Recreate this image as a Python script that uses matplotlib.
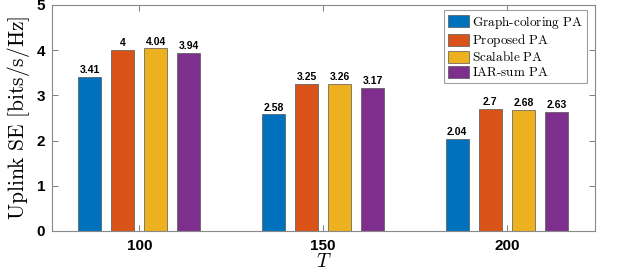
import numpy as np
from matplotlib import pyplot as plt

plt.rcParams['mathtext.fontset'] = 'cm'

t_values = ['100', '150', '200']
series = ['Graph-coloring PA', 'Proposed PA', 'Scalable PA', 'IAR-sum PA']
se_graph = [3.41, 2.58, 2.04]
se_proposed = [4.00, 3.25, 2.70]
se_scalable = [4.04, 3.26, 2.68]
se_iar = [3.94, 3.17, 2.63]
labels_graph = ['3.41', '2.58', '2.04']
labels_proposed = ['4', '3.25', '2.7']
labels_scalable = ['4.04', '3.26', '2.68']
labels_iar = ['3.94', '3.17', '2.63']

colors = ['#0072BD', '#D95319', '#EDB120', '#7E2F8E']
data = [se_graph, se_proposed, se_scalable, se_iar]
texts = [labels_graph, labels_proposed, labels_scalable, labels_iar]

fig = plt.figure(figsize=(6.23, 2.72), dpi=100)
ax = fig.add_axes([52/623, 1-231/272, 543/623, 226/272])

x = np.arange(len(t_values))
width = 0.125
step = 0.18
for i, (vals, lab) in enumerate(zip(data, texts)):
    off = (i - 1.5) * step
    bars = ax.bar(x + off, vals, width, color=colors[i], edgecolor='#555555',
                  linewidth=0.5, label=series[i])
    for b, s in zip(bars, lab):
        ax.text(b.get_x() + b.get_width()/2, b.get_height() + 0.04, s,
                ha='center', va='bottom', fontsize=7.5, fontweight='bold',
                family='Liberation Sans')

ax.set_xlim(-0.475, 2.48)
ax.set_ylim(0, 5)
ax.set_xticks(x)
ax.set_xticklabels(t_values)
ax.set_yticks([0, 1, 2, 3, 4, 5])
for lbl in ax.get_xticklabels() + ax.get_yticklabels():
    lbl.set_fontweight('bold')
    lbl.set_family('Liberation Sans')
    lbl.set_fontsize(11)
ax.tick_params(direction='in', top=True, right=True, length=4, width=0.6,
               color='#666666')
ax.tick_params(axis='x', pad=6)
ax.tick_params(axis='y', pad=5)
for sp in ax.spines.values():
    sp.set_color('#888888')
    sp.set_linewidth(0.8)

ax.set_ylabel(r'$\mathrm{Uplink\ SE\ [bits/s/Hz]}$', fontsize=15.5, labelpad=3)
ax.set_xlabel(r'$T$', fontsize=14, labelpad=-1)

leg = ax.legend(loc='upper right', bbox_to_anchor=(0.99, 0.99),
                prop={'family': 'DejaVu Serif', 'size': 9.5}, fancybox=False,
                handlelength=1.6, handleheight=1.0, handletextpad=0.2,
                labelspacing=0.1, borderpad=0.3, borderaxespad=0.2)
leg.get_frame().set_edgecolor('#888888')
leg.get_frame().set_linewidth(0.8)
for t in leg.get_texts():
    t.set_text(r'$\mathrm{' + t.get_text().replace(' ', r'\ ').replace('-', r'\text{-}') + '}$')

fig.savefig('out.png', dpi=100)
